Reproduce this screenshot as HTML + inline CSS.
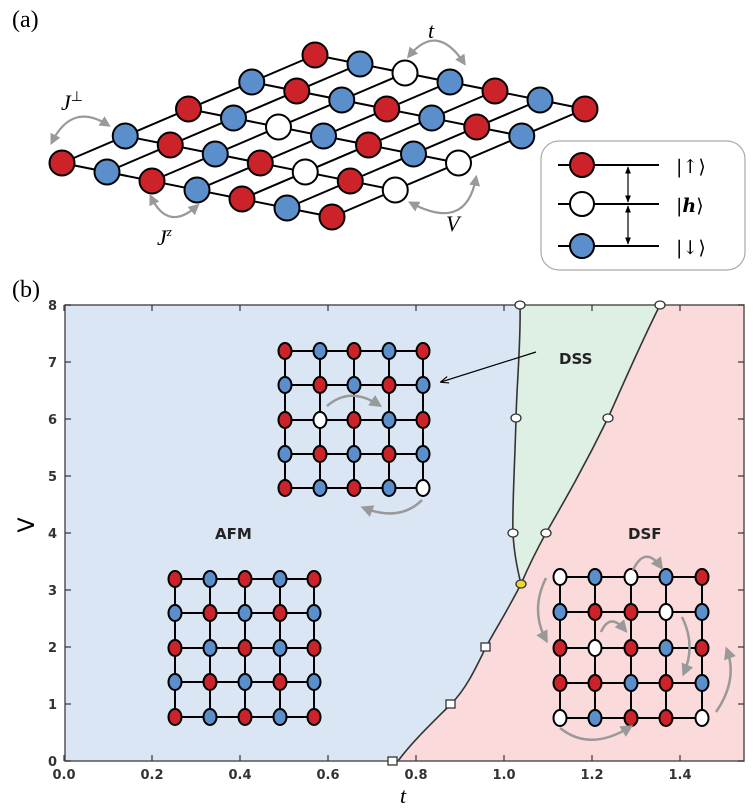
<!DOCTYPE html>
<html><head><meta charset="utf-8">
<style>
html,body{margin:0;padding:0;background:#fff;}
svg{display:block;}
.tk{font-family:"DejaVu Sans",sans-serif;font-weight:bold;font-size:13px;fill:#333;}
.ph{font-family:"DejaVu Sans",sans-serif;font-weight:bold;font-size:15px;fill:#222;}
.it{font-family:"Liberation Serif",serif;font-style:italic;}
</style></head>
<body>
<svg id="s" width="754" height="810" viewBox="0 0 754 810" xmlns="http://www.w3.org/2000/svg">
<defs>
<marker id="ga" viewBox="0 0 10 10" refX="7" refY="5" markerWidth="5" markerHeight="5" orient="auto-start-reverse"><path d="M0,0 L10,5 L0,10 z" fill="#999"/></marker>
<marker id="ka" viewBox="0 0 10 10" refX="9" refY="5" markerWidth="7" markerHeight="7" orient="auto-start-reverse"><path d="M0,1 L10,5 L0,9" fill="none" stroke="#000" stroke-width="1.3"/></marker>
<marker id="kb" viewBox="0 0 10 10" refX="9" refY="5" markerWidth="6" markerHeight="6" orient="auto-start-reverse"><path d="M0,1 L10,5 L0,9 z" fill="#000"/></marker>
<clipPath id="pc"><rect x="65" y="305" width="679" height="456"/></clipPath>
</defs>

<text x="12" y="27" font-family="Liberation Serif,serif" font-size="24">(a)</text>
<g id="lat"></g>
<g fill="none" stroke="#999" stroke-width="2.2">
<path d="M52,142 Q72,102 108,125" marker-start="url(#ga)" marker-end="url(#ga)"/>
<path d="M409,56 Q437,22 464,63" marker-start="url(#ga)" marker-end="url(#ga)"/>
<path d="M151,197 Q168,232 197,206" marker-start="url(#ga)" marker-end="url(#ga)"/>
<path d="M476,178 Q466,232 411,203" marker-start="url(#ga)" marker-end="url(#ga)"/>
</g>
<text x="61" y="110" class="it" font-size="22">J<tspan font-style="normal" font-size="14" dy="-9">⊥</tspan></text>
<text x="428" y="38" class="it" font-size="22">t</text>
<text x="157" y="245" class="it" font-size="22">J<tspan font-size="13" dy="-9">z</tspan></text>
<text x="446" y="231" class="it" font-size="22">V</text>

<rect x="541" y="141" width="204" height="129" rx="18" fill="#fff" stroke="#aaa" stroke-width="1.2"/>
<g stroke="#000" stroke-width="2">
<line x1="558" y1="165" x2="659" y2="165"/>
<line x1="558" y1="204" x2="659" y2="204"/>
<line x1="558" y1="246" x2="659" y2="246"/>
<line x1="628" y1="167" x2="628" y2="202" stroke-width="1.2" marker-start="url(#kb)" marker-end="url(#kb)"/>
<line x1="628" y1="206" x2="628" y2="244" stroke-width="1.2" marker-start="url(#kb)" marker-end="url(#kb)"/>
</g>
<circle cx="582" cy="165" r="12" fill="#cc2229" stroke="#000" stroke-width="2"/>
<circle cx="582" cy="204" r="12" fill="#fff" stroke="#000" stroke-width="2"/>
<circle cx="582" cy="246" r="12" fill="#5b8fcc" stroke="#000" stroke-width="2"/>
<text x="676" y="173" font-family="DejaVu Serif,serif" font-size="19">|↑⟩</text>
<text x="676" y="212" font-family="DejaVu Serif,serif" font-size="19">|<tspan font-style="italic" font-weight="bold">h</tspan>⟩</text>
<text x="676" y="254" font-family="DejaVu Serif,serif" font-size="19">|↓⟩</text>

<text x="12" y="297" font-family="Liberation Serif,serif" font-size="24">(b)</text>
<g clip-path="url(#pc)">
<rect x="65" y="305" width="679" height="456" fill="#fadada"/>
<path d="M60,300 L520,300 C521,340 517,380 516,418 C515,460 512,510 513,533 C514,555 518,572 521,584 C505,615 495,630 486,647 C474,672 465,690 451,704 C430,725 412,742 398,761 L60,766 Z" fill="#dbe6f5"/>
<path d="M520,300 L662,300 C640,345 625,380 608,418 C585,465 565,500 546,533 C535,553 527,570 521,584 C518,572 514,555 513,533 C512,510 515,460 516,418 C517,380 521,340 520,300 Z" fill="#deefe3"/>
<path d="M520,305 C521,340 517,380 516,418 C515,460 512,510 513,533 C514,555 518,572 521,584 C505,615 495,630 486,647 C474,672 465,690 451,704 C430,725 412,742 398,761" fill="none" stroke="#333" stroke-width="1.6"/>
<path d="M660,305 C640,345 625,380 608,418 C585,465 565,500 546,533 C535,553 527,570 521,584" fill="none" stroke="#333" stroke-width="1.6"/>
</g>
<rect x="65" y="305" width="679" height="456" fill="none" stroke="#555" stroke-width="1.5"/>
<g id="ticks" stroke="#333" stroke-width="1.2"></g>
<g id="tl"></g>
<g fill="#fff" stroke="#333" stroke-width="1.3">
<ellipse cx="520" cy="305" rx="5" ry="4"/><ellipse cx="660" cy="305" rx="5" ry="4"/>
<ellipse cx="516" cy="418" rx="5" ry="4"/><ellipse cx="608" cy="418" rx="5" ry="4"/>
<ellipse cx="513" cy="533" rx="5" ry="4"/><ellipse cx="546" cy="533" rx="5" ry="4"/>
<rect x="446" y="700" width="9" height="8"/><rect x="481" y="643" width="9" height="8"/>
<rect x="388" y="757" width="9" height="8"/>
</g>
<ellipse cx="521" cy="584" rx="5" ry="4" fill="#f2d82a" stroke="#333" stroke-width="1.3"/>

<g id="ins"></g>
<line x1="536" y1="352" x2="441" y2="382" stroke="#000" stroke-width="1.2" marker-end="url(#ka)"/>
<g fill="none" stroke="#999" stroke-width="2.5">
<path d="M327,406 Q350,386 379,405" marker-end="url(#ga)"/>
<path d="M422,500 Q400,522 364,508" marker-end="url(#ga)"/>
<path d="M633,570 Q645,545 661,567" marker-end="url(#ga)"/>
<path d="M546,578 Q530,610 546,640" marker-end="url(#ga)"/>
<path d="M601,632 Q610,612 625,630" marker-end="url(#ga)"/>
<path d="M682,617 Q696,645 684,673" marker-end="url(#ga)"/>
<path d="M716,712 Q738,680 727,650" marker-end="url(#ga)"/>
<path d="M560,728 Q590,752 630,727" marker-end="url(#ga)"/>
</g>
<text x="215" y="539" class="ph">AFM</text>
<text x="628" y="539" class="ph">DSF</text>
<text x="559" y="364" class="ph">DSS</text>
<text x="42" y="533" font-size="22" transform="rotate(-90 34 533)" text-anchor="middle" font-family="DejaVu Sans,sans-serif">V</text>
<text x="403" y="803" class="it" font-size="22" text-anchor="middle">t</text>
</svg>
<script>
var NS="http://www.w3.org/2000/svg";
function el(p,t,a){var e=document.createElementNS(NS,t);for(var k in a)e.setAttribute(k,a[k]);p.appendChild(e);return e;}
var C={R:"#cc2229",B:"#5b8fcc",W:"#fff"};
var lat=document.getElementById("lat");
var rows=["RBRBRBR","BRBRWRW","RBWBRBW","BRBRBRB","RBWBRBR"];
function P(i,j){return [62+45*i+63.25*j,163+9*i-27*j];}
for(var j=0;j<5;j++){var a=P(0,j),b=P(6,j);el(lat,"line",{x1:a[0],y1:a[1],x2:b[0],y2:b[1],stroke:"#000","stroke-width":2});}
for(var i=0;i<7;i++){var a=P(i,0),b=P(i,4);el(lat,"line",{x1:a[0],y1:a[1],x2:b[0],y2:b[1],stroke:"#000","stroke-width":2});}
for(var j=0;j<5;j++)for(var i=0;i<7;i++){var p=P(i,j);el(lat,"circle",{cx:p[0],cy:p[1],r:12.5,fill:C[rows[j][i]],stroke:"#000","stroke-width":2});}
var ins=document.getElementById("ins");
function grid(xs,ys,rs){
 for(var r=0;r<5;r++)el(ins,"line",{x1:xs[0],y1:ys[r],x2:xs[4],y2:ys[r],stroke:"#000","stroke-width":2});
 for(var c=0;c<5;c++)el(ins,"line",{x1:xs[c],y1:ys[0],x2:xs[c],y2:ys[4],stroke:"#000","stroke-width":2});
 for(var r=0;r<5;r++)for(var c=0;c<5;c++)el(ins,"ellipse",{cx:xs[c],cy:ys[r],rx:6.5,ry:8,fill:C[rs[r][c]],stroke:"#000","stroke-width":2});
}
grid([285,320,354,389,423],[351,385,420,454,488],["RBRBR","BRBRB","RWRBR","BRBRB","RBRBW"]);
grid([175,210,245,280,314],[579,613,648,682,717],["RBRBR","BRBRB","RBRBR","BRBRB","RBRBR"]);
grid([560,595,631,666,702],[577,612,648,683,718],["WBWBR","BRRWB","RWRBR","RRBRB","WBRRW"]);
var tk=document.getElementById("ticks"),tl=document.getElementById("tl");
for(var k=0;k<=7;k++){var x=64+440*0.2*k;
 el(tk,"line",{x1:x,y1:761,x2:x,y2:755});el(tk,"line",{x1:x,y1:305,x2:x,y2:311});
 var t=el(tl,"text",{x:x,y:779,"text-anchor":"middle","class":"tk"});t.textContent=(0.2*k).toFixed(1);}
for(var k=0;k<=8;k++){var y=761-57*k;
 el(tk,"line",{x1:65,y1:y,x2:71,y2:y});el(tk,"line",{x1:744,y1:y,x2:738,y2:y});
 var t=el(tl,"text",{x:57,y:y+5,"text-anchor":"end","class":"tk"});t.textContent=k;}
</script>
</body></html>
